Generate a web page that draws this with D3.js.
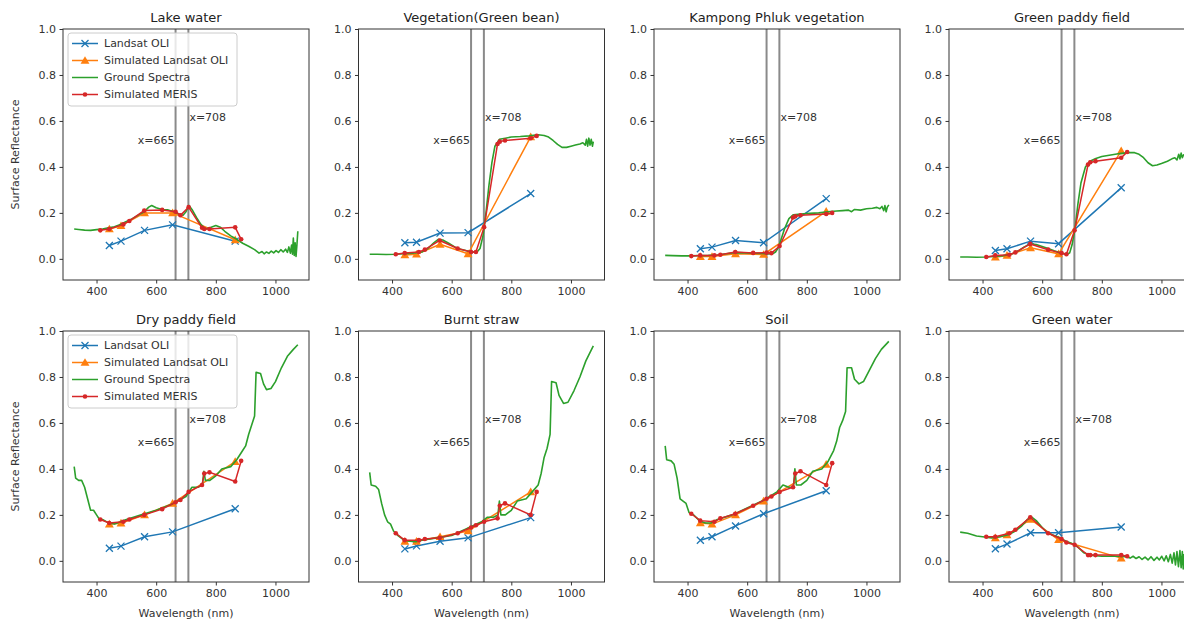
<!DOCTYPE html>
<html>
<head>
<meta charset="utf-8">
<script src="https://cdn.jsdelivr.net/npm/d3@7"></script>
<style>
  body { margin: 0; background: #fff; }
  svg { display: block; font-family: "DejaVu Sans", sans-serif; }
</style>
</head>
<body>
<svg id="chart" width="1184" height="619"></svg>
<script>
// panel titles, in grid order
var titles = ["Lake water", "Vegetation(Green bean)", "Kampong Phluk vegetation", "Green paddy field",
              "Dry paddy field", "Burnt straw", "Soil", "Green water"];

var oliBands = [443, 482, 561, 655, 865];
var merisBands = [412.5, 442.5, 490, 510, 560, 620, 665, 681.25, 708.75, 753.75, 761.25, 778.75, 865, 885];

// Landsat OLI reflectance per panel (one row per panel)
var landsatOli = [
    [0.058, 0.077, 0.124, 0.148, 0.077],
    [0.070, 0.072, 0.112, 0.114, 0.284],
    [0.044, 0.051, 0.080, 0.070, 0.262],
    [0.036, 0.044, 0.077, 0.066, 0.309],
    [0.055, 0.064, 0.105, 0.126, 0.227],
    [0.052, 0.065, 0.085, 0.100, 0.188],
    [0.090, 0.105, 0.152, 0.205, 0.305],
    [0.053, 0.073, 0.122, 0.122, 0.147]
];

// simulated Landsat OLI
var simOli = [
    [0.130, 0.144, 0.200, 0.200, 0.083],
    [0.017, 0.020, 0.063, 0.022, 0.531],
    [0.010, 0.010, 0.022, 0.019, 0.207],
    [0.007, 0.015, 0.048, 0.022, 0.470],
    [0.160, 0.164, 0.200, 0.250, 0.432],
    [0.085, 0.085, 0.105, 0.130, 0.300],
    [0.165, 0.160, 0.200, 0.260, 0.420],
    [0.100, 0.113, 0.180, 0.092, 0.012]
];

// simulated MERIS
var simMeris = [
    [0.124, 0.130, 0.150, 0.165, 0.210, 0.213, 0.205, 0.190, 0.225, 0.135, 0.130, 0.130, 0.137, 0.085],
    [0.020, 0.025, 0.030, 0.040, 0.080, 0.045, 0.030, 0.030, 0.138, 0.500, 0.510, 0.515, 0.525, 0.535],
    [0.012, 0.015, 0.015, 0.018, 0.030, 0.026, 0.027, 0.025, 0.056, 0.180, 0.185, 0.190, 0.195, 0.200],
    [0.008, 0.015, 0.018, 0.028, 0.065, 0.040, 0.025, 0.020, 0.124, 0.410, 0.420, 0.425, 0.440, 0.465],
    [0.180, 0.165, 0.170, 0.180, 0.200, 0.225, 0.255, 0.265, 0.300, 0.330, 0.380, 0.385, 0.345, 0.435],
    [0.120, 0.090, 0.090, 0.095, 0.100, 0.120, 0.145, 0.155, 0.170, 0.185, 0.240, 0.250, 0.200, 0.300],
    [0.205, 0.175, 0.170, 0.185, 0.205, 0.240, 0.270, 0.280, 0.300, 0.320, 0.380, 0.390, 0.330, 0.425],
    [0.105, 0.105, 0.120, 0.135, 0.190, 0.120, 0.095, 0.080, 0.070, 0.025, 0.025, 0.025, 0.025, 0.020]
];

// ground spectra [wavelength, reflectance]
var groundLake = [[325,0.130],[340,0.128],[360,0.125],[380,0.124],[400,0.127],[420,0.130],[440,0.135],[460,0.140],[480,0.150],[500,0.163],[520,0.175],[540,0.190],[560,0.205],[575,0.225],[585,0.232],[600,0.222],[620,0.215],[640,0.213],[660,0.205],[675,0.195],[690,0.190],[700,0.205],[710,0.232],[720,0.215],[735,0.180],[750,0.150],[765,0.130],[780,0.135],[800,0.145],[815,0.138],[830,0.120],[850,0.100],[870,0.085],[890,0.068],[910,0.055],[930,0.040],[945,0.025],[955,0.032],[962,0.022],[970,0.030],[978,0.024],[986,0.034],[994,0.026],[1002,0.036],[1010,0.028],[1018,0.040],[1026,0.030],[1034,0.042],[1040,0.028],[1045,0.052],[1050,0.025],[1054,0.060],[1057,0.020],[1060,0.090],[1063,0.015],[1066,0.070],[1069,0.010],[1072,0.060],[1075,0.120]];
var groundBean = [[325,0.020],[350,0.020],[380,0.019],[410,0.020],[440,0.022],[470,0.025],[500,0.030],[520,0.045],[540,0.070],[555,0.085],[570,0.082],[590,0.068],[610,0.052],[630,0.042],[650,0.035],[670,0.030],[685,0.030],[695,0.045],[705,0.100],[715,0.200],[725,0.320],[735,0.420],[745,0.490],[760,0.520],[780,0.525],[800,0.530],[830,0.532],[860,0.535],[890,0.540],[910,0.537],[925,0.530],[940,0.515],[955,0.498],[970,0.485],[985,0.485],[1000,0.490],[1015,0.495],[1030,0.500],[1040,0.505],[1048,0.495],[1052,0.520],[1056,0.490],[1060,0.525],[1064,0.495],[1068,0.520],[1072,0.490],[1075,0.510]];
var groundKampong = [[325,0.015],[350,0.014],[380,0.013],[410,0.013],[440,0.014],[470,0.015],[500,0.017],[530,0.022],[560,0.027],[590,0.026],[620,0.025],[650,0.023],[670,0.021],[685,0.022],[695,0.030],[705,0.050],[715,0.090],[725,0.130],[740,0.175],[755,0.192],[780,0.195],[810,0.198],[840,0.200],[870,0.205],[900,0.208],[920,0.210],[940,0.212],[950,0.205],[960,0.215],[980,0.212],[1000,0.218],[1020,0.220],[1035,0.224],[1045,0.218],[1052,0.228],[1058,0.210],[1062,0.232],[1066,0.205],[1070,0.225],[1075,0.235]];
var groundGreenPaddy = [[325,0.008],[350,0.008],[380,0.007],[410,0.008],[440,0.010],[470,0.014],[500,0.022],[520,0.035],[540,0.052],[560,0.065],[580,0.062],[600,0.054],[620,0.045],[640,0.035],[660,0.026],[680,0.020],[692,0.025],[700,0.060],[710,0.130],[720,0.240],[730,0.330],[745,0.400],[760,0.425],[780,0.437],[800,0.445],[830,0.452],[860,0.458],[890,0.462],[910,0.462],[925,0.455],[940,0.440],[955,0.418],[970,0.405],[985,0.408],[1000,0.415],[1020,0.425],[1035,0.435],[1045,0.440],[1052,0.430],[1058,0.455],[1062,0.435],[1066,0.460],[1070,0.440],[1075,0.455]];
var groundDryPaddy = [[325,0.410],[330,0.360],[340,0.350],[350,0.350],[360,0.320],[370,0.270],[380,0.220],[390,0.220],[400,0.200],[410,0.180],[420,0.180],[440,0.165],[460,0.160],[480,0.170],[500,0.180],[550,0.200],[600,0.220],[650,0.245],[700,0.280],[720,0.320],[740,0.320],[755,0.330],[760,0.390],[765,0.350],[780,0.350],[800,0.370],[820,0.400],[850,0.410],[870,0.440],[890,0.480],[900,0.500],[910,0.550],[920,0.590],[930,0.630],[935,0.820],[950,0.815],[960,0.770],[970,0.745],[985,0.750],[1000,0.780],[1020,0.840],[1040,0.890],[1060,0.920],[1075,0.940]];
var groundStraw = [[325,0.385],[330,0.330],[345,0.325],[355,0.310],[365,0.250],[375,0.200],[385,0.170],[395,0.160],[405,0.130],[420,0.110],[440,0.090],[460,0.085],[480,0.083],[500,0.090],[550,0.100],[600,0.110],[650,0.140],[700,0.170],[720,0.190],[740,0.190],[755,0.200],[760,0.260],[765,0.200],[780,0.200],[800,0.220],[820,0.260],[850,0.270],[870,0.300],[890,0.330],[900,0.380],[910,0.450],[920,0.490],[930,0.550],[935,0.780],[950,0.775],[960,0.720],[975,0.685],[990,0.690],[1010,0.740],[1030,0.800],[1050,0.870],[1075,0.935]];
var groundSoil = [[325,0.500],[330,0.440],[345,0.435],[355,0.420],[365,0.360],[375,0.270],[385,0.260],[395,0.250],[405,0.210],[420,0.200],[440,0.175],[460,0.165],[480,0.165],[500,0.180],[550,0.200],[600,0.230],[650,0.260],[700,0.300],[720,0.330],[740,0.320],[755,0.320],[760,0.400],[765,0.330],[780,0.330],[800,0.350],[820,0.390],[850,0.400],[870,0.430],[890,0.480],[900,0.520],[910,0.580],[920,0.610],[930,0.650],[935,0.840],[950,0.840],[960,0.790],[975,0.770],[990,0.780],[1010,0.830],[1030,0.880],[1050,0.920],[1075,0.955]];
var groundGreenWater = [[325,0.125],[350,0.120],[380,0.108],[400,0.105],[430,0.100],[460,0.105],[490,0.115],[510,0.130],[530,0.150],[550,0.180],[565,0.190],[580,0.175],[600,0.145],[620,0.120],[640,0.110],[660,0.100],[680,0.085],[700,0.075],[720,0.060],[740,0.035],[760,0.025],[800,0.020],[850,0.020],[880,0.018],[895,0.012],[905,0.020],[915,0.010],[925,0.018],[935,0.006],[945,0.016],[955,0.004],[965,0.018],[975,0.002],[985,0.016],[993,0.004],[1001,0.020],[1009,0.000],[1016,0.022],[1023,-0.004],[1030,0.028],[1036,-0.010],[1042,0.035],[1047,-0.018],[1052,0.040],[1057,-0.025],[1062,0.045],[1066,-0.030],[1070,0.040],[1073,-0.035],[1075,0.030]];
var groundSpectra = [groundLake, groundBean, groundKampong, groundGreenPaddy,
                     groundDryPaddy, groundStraw, groundSoil, groundGreenWater];

var vLines = [665, 708];
var xTicks = [400, 600, 800, 1000];
var yTicks = [0, 0.2, 0.4, 0.6, 0.8, 1.0];
var legendNames = ["Landsat OLI", "Simulated Landsat OLI", "Ground Spectra", "Simulated MERIS"];

var colors = {blue: "#1f77b4", orange: "#ff7f0e", green: "#2ca02c", red: "#d62728"};
var textColor = "#333";

var svg = d3.select("#chart");
var lefts = [63, 358.5, 654, 949];
var tops = [29, 331];
var pw = 246, ph = 251;

var x = d3.scaleLinear().domain([287.5, 1112.5]).range([0, pw]);
var y = d3.scaleLinear().domain([-0.092, 1.0]).range([ph, 0]);
var line = d3.line().x(d => x(d[0])).y(d => y(d[1]));

svg.append("defs").append("clipPath").attr("id", "clip")
    .append("rect").attr("width", pw).attr("height", ph);

function markerX(g, pts, color) {
    g.selectAll(null).data(pts).enter().append("path")
        .attr("d", "M-3.5,-3.5L3.5,3.5M-3.5,3.5L3.5,-3.5")
        .attr("transform", d => "translate(" + x(d[0]) + "," + y(d[1]) + ")")
        .attr("stroke", color).attr("stroke-width", 1.3).attr("fill", "none");
}
function markerTri(g, pts, color) {
    g.selectAll(null).data(pts).enter().append("path")
        .attr("d", d3.symbol().type(d3.symbolTriangle).size(34))
        .attr("transform", d => "translate(" + x(d[0]) + "," + (y(d[1]) + 0.8) + ")")
        .attr("fill", color);
}
function markerDot(g, pts, color) {
    g.selectAll(null).data(pts).enter().append("circle")
        .attr("cx", d => x(d[0])).attr("cy", d => y(d[1])).attr("r", 2.3)
        .attr("fill", color);
}

titles.forEach(function (title, i) {
    var row = Math.floor(i / 4), col = i % 4;
    var g = svg.append("g").attr("transform", "translate(" + lefts[col] + "," + tops[row] + ")");

    // axes
    var xa = g.append("g").attr("transform", "translate(0," + ph + ")")
        .call(d3.axisBottom(x).tickValues(xTicks).tickSize(3.5).tickPadding(3.5).tickFormat(d3.format("d")));
    var ya = g.append("g")
        .call(d3.axisLeft(y).tickValues(yTicks).tickSize(3.5).tickPadding(3.5).tickFormat(d3.format(".1f")));
    [xa, ya].forEach(function (a) {
        a.select(".domain").remove();
        a.selectAll("line").attr("stroke", textColor);
        a.selectAll("text").attr("fill", textColor).style("font-size", "11px")
            .style("font-family", "DejaVu Sans, sans-serif");
    });

    var plot = g.append("g").attr("clip-path", "url(#clip)");

    vLines.forEach(function (v) {
        plot.append("line").attr("x1", x(v)).attr("x2", x(v)).attr("y1", 0).attr("y2", ph)
            .attr("stroke", "#8a8a8a").attr("stroke-width", 2);
    });

    var oliPts = oliBands.map((b, k) => [b, landsatOli[i][k]]);
    var simPts = oliBands.map((b, k) => [b, simOli[i][k]]);
    var merisPts = merisBands.map((b, k) => [b, simMeris[i][k]]);

    plot.append("path").datum(oliPts).attr("d", line).attr("fill", "none")
        .attr("stroke", colors.blue).attr("stroke-width", 1.5);
    markerX(plot, oliPts, colors.blue);

    plot.append("path").datum(simPts).attr("d", line).attr("fill", "none")
        .attr("stroke", colors.orange).attr("stroke-width", 1.5);
    markerTri(plot, simPts, colors.orange);

    plot.append("path").datum(groundSpectra[i]).attr("d", line).attr("fill", "none")
        .attr("stroke", colors.green).attr("stroke-width", 1.6).attr("stroke-linejoin", "round");

    plot.append("path").datum(merisPts).attr("d", line).attr("fill", "none")
        .attr("stroke", colors.red).attr("stroke-width", 1.5);
    markerDot(plot, merisPts, colors.red);

    // annotations
    g.append("text").attr("x", x(665) - 1).attr("y", y(0.5)).attr("text-anchor", "end")
        .attr("fill", textColor).style("font-size", "11px").text("x=665");
    g.append("text").attr("x", x(708) + 1).attr("y", y(0.6)).attr("text-anchor", "start")
        .attr("fill", textColor).style("font-size", "11px").text("x=708");

    // frame
    g.append("rect").attr("width", pw).attr("height", ph).attr("fill", "none")
        .attr("stroke", textColor).attr("stroke-width", 1);

    g.append("text").attr("x", pw / 2).attr("y", -7).attr("text-anchor", "middle")
        .attr("fill", "#222").style("font-size", "13px").text(title);

    if (row === 1) {
        g.append("text").attr("x", pw / 2).attr("y", ph + 35).attr("text-anchor", "middle")
            .attr("fill", textColor).style("font-size", "11px").text("Wavelength (nm)");
    }

    if (col === 0) {
        g.append("text").attr("transform", "translate(" + (-48) + "," + (ph / 2) + ") rotate(-90)")
            .attr("text-anchor", "middle").attr("dy", "0.35em")
            .attr("fill", textColor).style("font-size", "11px").text("Surface Reflectance");

        var lg = g.append("g").attr("transform", "translate(5,4)");
        lg.append("rect").attr("width", 169).attr("height", 73).attr("rx", 3)
            .attr("fill", "#fff").attr("fill-opacity", 0.8).attr("stroke", "#ccc");
        var legendColors = [colors.blue, colors.orange, colors.green, colors.red];
        legendNames.forEach(function (name, k) {
            var ly = 10.5 + k * 17;
            lg.append("line").attr("x1", 4).attr("x2", 30).attr("y1", ly).attr("y2", ly)
                .attr("stroke", legendColors[k]).attr("stroke-width", 1.5);
            var mk = lg.append("g").attr("transform", "translate(17," + ly + ")");
            if (k === 0) {
                mk.append("path").attr("d", "M-3.5,-3.5L3.5,3.5M-3.5,3.5L3.5,-3.5")
                    .attr("stroke", legendColors[k]).attr("stroke-width", 1.3);
            } else if (k === 1) {
                mk.append("path").attr("d", d3.symbol().type(d3.symbolTriangle).size(34))
                    .attr("transform", "translate(0,0.8)").attr("fill", legendColors[k]);
            } else if (k === 3) {
                mk.append("circle").attr("r", 2.3).attr("fill", legendColors[k]);
            }
            lg.append("text").attr("x", 36).attr("y", ly).attr("dy", "0.35em")
                .attr("fill", textColor).style("font-size", "11px").text(name);
        });
    }
});
</script>
</body>
</html>
